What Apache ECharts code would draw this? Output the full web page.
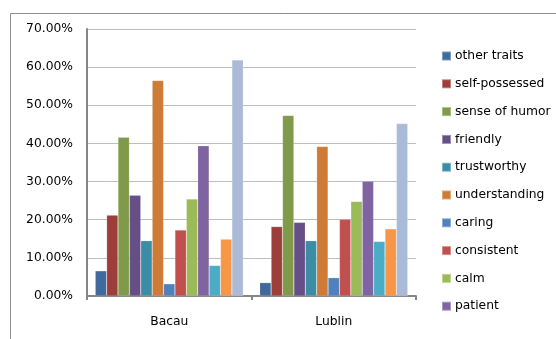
<!DOCTYPE html>
<html>
<head>
<meta charset="utf-8">
<script src="https://cdn.jsdelivr.net/npm/echarts@6/dist/echarts.min.js"></script>
<style>
  html, body { margin: 0; padding: 0; background: #fff; }
  #chart { width: 556px; height: 339px; }
</style>
</head>
<body>
<div id="chart"></div>
<script>
// Cities compared
const categories = ['Bacau', 'Lublin'];

// Trait names (the last three are not listed in the legend)
const traitNames = [
  'other traits', 'self-possessed', 'sense of humor', 'friendly', 'trustworthy',
  'understanding', 'caring', 'consistent', 'calm', 'patient',
  'tolerant', 'fair', 'empathic'
];

// Share of answers per trait, percent: [Bacau, Lublin]
const otherTraits   = [6.6, 3.5];
const selfPossessed = [21.2, 18.2];
const senseOfHumor  = [41.6, 47.3];
const friendly      = [26.4, 19.3];
const trustworthy   = [14.5, 14.5];
const understanding = [56.5, 39.2];
const caring        = [3.2, 4.8];
const consistent    = [17.3, 20.1];
const calm          = [25.4, 24.8];
const patient       = [39.4, 30.1];
const tolerant      = [8.0, 14.3];
const fair          = [14.9, 17.6];
const empathic      = [61.9, 45.2];

const seriesValues = [
  otherTraits, selfPossessed, senseOfHumor, friendly, trustworthy,
  understanding, caring, consistent, calm, patient, tolerant, fair, empathic
];

const colors = [
  '#40699C', '#9E3E3B', '#7F9A48', '#664F87', '#3A8DA4',
  '#CD7B37', '#4F81BD', '#C0504D', '#9BBB59', '#8064A2',
  '#4BACC6', '#F79646', '#AABAD7'
];

// Y axis tick values (percent)
const yTicks = [0, 10, 20, 30, 40, 50, 60, 70];

const font = 'DejaVu Sans';
const fontSize = 12.3;

const chart = echarts.init(document.getElementById('chart'), null, { renderer: 'canvas' });

chart.setOption({
  animation: false,
  color: colors,
  textStyle: { fontFamily: font },
  graphic: [{
    type: 'rect',
    shape: { x: 10.5, y: 13.5, width: 700, height: 500 },
    style: { fill: 'none', stroke: '#8E8E8E', lineWidth: 1 },
    silent: true
  }],
  grid: { left: 87, right: 140, top: 29, bottom: 43 },
  legend: {
    data: traitNames.slice(0, 10),
    orient: 'vertical',
    left: 441,
    top: 49,
    padding: 0,
    itemWidth: 9,
    itemHeight: 9,
    itemGap: 13.8,
    icon: 'rect',
    textStyle: { fontFamily: font, fontSize: fontSize, color: '#000', lineHeight: 14, padding: [0, 0, 0, -1] }
  },
  xAxis: {
    type: 'category',
    data: categories,
    axisLine: { lineStyle: { color: '#868686', width: 2 } },
    axisTick: { show: true, length: 4, lineStyle: { color: '#868686', width: 2 } },
    axisLabel: { fontFamily: font, fontSize: fontSize, color: '#000', margin: 20 }
  },
  yAxis: {
    type: 'value',
    min: yTicks[0],
    max: yTicks[yTicks.length - 1],
    interval: 10,
    axisLine: { show: true, lineStyle: { color: '#868686', width: 2 } },
    axisTick: { show: false },
    splitLine: { lineStyle: { color: '#BDBDBD', width: 1 } },
    axisLabel: {
      fontFamily: font, fontSize: fontSize, color: '#000', margin: 14,
      formatter: v => v.toFixed(2) + '%'
    }
  },
  series: traitNames.map((name, i) => ({
    name: name,
    type: 'bar',
    data: seriesValues[i],
    barGap: '0%',
    barCategoryGap: '10%',
    itemStyle: { borderColor: 'rgba(255,255,255,0.35)', borderWidth: 0.5 }
  }))
});
</script>
</body>
</html>
